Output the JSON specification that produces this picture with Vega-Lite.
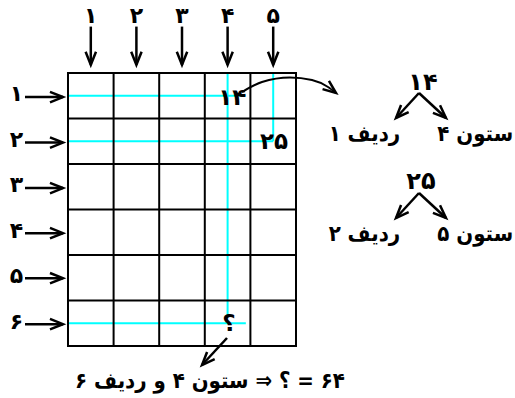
{
  "$schema": "https://vega.github.io/schema/vega-lite/v6.json",
  "width": 515,
  "height": 398,
  "padding": 0,
  "autosize": {"type": "fit", "contains": "padding"},
  "config": {"view": {"stroke": null}},
  "datasets": {
    "grid": [
      {"x": 0, "y": 0, "x2": 0, "y2": 6},
      {"x": 1, "y": 0, "x2": 1, "y2": 6},
      {"x": 2, "y": 0, "x2": 2, "y2": 6},
      {"x": 3, "y": 0, "x2": 3, "y2": 6},
      {"x": 4, "y": 0, "x2": 4, "y2": 6},
      {"x": 5, "y": 0, "x2": 5, "y2": 6},
      {"x": 0, "y": 0, "x2": 5, "y2": 0},
      {"x": 0, "y": 1, "x2": 5, "y2": 1},
      {"x": 0, "y": 2, "x2": 5, "y2": 2},
      {"x": 0, "y": 3, "x2": 5, "y2": 3},
      {"x": 0, "y": 4, "x2": 5, "y2": 4},
      {"x": 0, "y": 5, "x2": 5, "y2": 5},
      {"x": 0, "y": 6, "x2": 5, "y2": 6}
    ],
    "cyan": [
      {"x": 0, "y": 0.5, "x2": 3.9, "y2": 0.5},
      {"x": 0, "y": 1.5, "x2": 4.5, "y2": 1.5},
      {"x": 4.5, "y": 0, "x2": 4.5, "y2": 1.5},
      {"x": 3.5, "y": 0, "x2": 3.5, "y2": 5.36},
      {"x": 0, "y": 5.5, "x2": 3.9, "y2": 5.5}
    ],
    "arrows": [
      {"x": 0.5, "y": -1.02, "x2": 0.5, "y2": -0.18, "dir": "down"},
      {"x": 1.5, "y": -1.02, "x2": 1.5, "y2": -0.18, "dir": "down"},
      {"x": 2.5, "y": -1.02, "x2": 2.5, "y2": -0.18, "dir": "down"},
      {"x": 3.5, "y": -1.02, "x2": 3.5, "y2": -0.18, "dir": "down"},
      {"x": 4.5, "y": -1.02, "x2": 4.5, "y2": -0.18, "dir": "down"},
      {"x": -0.943, "y": 0.53, "x2": -0.11, "y2": 0.53, "dir": "right"},
      {"x": -0.943, "y": 1.53, "x2": -0.11, "y2": 1.53, "dir": "right"},
      {"x": -0.943, "y": 2.53, "x2": -0.11, "y2": 2.53, "dir": "right"},
      {"x": -0.943, "y": 3.52, "x2": -0.11, "y2": 3.52, "dir": "right"},
      {"x": -0.943, "y": 4.51, "x2": -0.11, "y2": 4.51, "dir": "right"},
      {"x": -0.943, "y": 5.52, "x2": -0.11, "y2": 5.52, "dir": "right"},
      {"x": 7.697, "y": 0.44, "x2": 7.193, "y2": 0.989, "dir": "downleft"},
      {"x": 7.697, "y": 0.44, "x2": 8.289, "y2": 0.989, "dir": "downright"},
      {"x": 7.697, "y": 2.637, "x2": 7.193, "y2": 3.187, "dir": "downleft"},
      {"x": 7.697, "y": 2.637, "x2": 8.289, "y2": 3.187, "dir": "downright"},
      {"x": 3.487, "y": 5.824, "x2": 2.939, "y2": 6.418, "dir": "downleft"},
      {"x": 5.877, "y": 0.44, "x2": 5.877, "y2": 0.44, "dir": "curve"}
    ],
    "curve": [
      {"x": 3.816, "y": 0.418},
      {"x": 4.254, "y": 0.198},
      {"x": 4.868, "y": 0.099},
      {"x": 5.351, "y": 0.154},
      {"x": 5.702, "y": 0.308},
      {"x": 5.877, "y": 0.44}
    ],
    "labels": [
      {"x": 0.5, "y": -1.25, "text": "۱", "kind": "col"},
      {"x": 1.5, "y": -1.25, "text": "۲", "kind": "col"},
      {"x": 2.5, "y": -1.25, "text": "۳", "kind": "col"},
      {"x": 3.5, "y": -1.25, "text": "۴", "kind": "col"},
      {"x": 4.5, "y": -1.25, "text": "۵", "kind": "col"},
      {"x": 3.6, "y": 0.54, "text": "۱۴", "kind": "cell"},
      {"x": 4.52, "y": 1.52, "text": "۲۵", "kind": "cell"},
      {"x": 3.53, "y": 5.52, "text": "؟", "kind": "cell"},
      {"x": 7.785, "y": 0.22, "text": "۱۴", "kind": "tree"},
      {"x": 7.741, "y": 2.396, "text": "۲۵", "kind": "tree"},
      {"x": 6.5, "y": 1.34, "text": "\u202bردیف ۱\u202c", "kind": "word"},
      {"x": 8.93, "y": 1.34, "text": "\u202bستون ۴\u202c", "kind": "word"},
      {"x": 6.5, "y": 3.538, "text": "\u202bردیف ۲\u202c", "kind": "word"},
      {"x": 8.93, "y": 3.538, "text": "\u202bستون ۵\u202c", "kind": "word"},
      {"x": 3.114, "y": 6.769, "text": "\u202b۶۴ = ؟ ⇒ ستون ۴ و ردیف ۶\u202c", "kind": "word"}
    ],
    "rowlabels": [
      {"x": -0.98, "y": 0.47, "text": "۱"},
      {"x": -0.98, "y": 1.47, "text": "۲"},
      {"x": -0.98, "y": 2.47, "text": "۳"},
      {"x": -0.98, "y": 3.47, "text": "۴"},
      {"x": -0.98, "y": 4.47, "text": "۵"},
      {"x": -0.98, "y": 5.47, "text": "۶"}
    ]
  },
  "encoding": {
    "x": {"field": "x", "type": "quantitative", "axis": null,
          "scale": {"domain": [-1.4912, 9.8026], "nice": false, "zero": false}},
    "y": {"field": "y", "type": "quantitative", "axis": null,
          "scale": {"domain": [-1.6044, 7.1429], "nice": false, "zero": false, "reverse": true}}
  },
  "layer": [
    {
      "data": {"name": "cyan"},
      "mark": {"type": "rule", "color": "#00FFFF", "strokeWidth": 2},
      "encoding": {"x2": {"field": "x2"}, "y2": {"field": "y2"}}
    },
    {
      "data": {"name": "grid"},
      "mark": {"type": "rule", "color": "#000000", "strokeWidth": 2, "strokeCap": "square"},
      "encoding": {"x2": {"field": "x2"}, "y2": {"field": "y2"}}
    },
    {
      "data": {"name": "arrows"},
      "mark": {"type": "rule", "color": "#000000", "strokeWidth": 2.5},
      "encoding": {"x2": {"field": "x2"}, "y2": {"field": "y2"}}
    },
    {
      "data": {"name": "arrows"},
      "transform": [{"filter": "datum.dir === 'down'"}],
      "mark": {"type": "point", "shape": "M -1 -0.4 L 0 0 L -1 0.4", "filled": false, "angle": 90,
               "color": "#000000", "opacity": 1, "strokeWidth": 2.5, "size": 676},
      "encoding": {"x": {"field": "x2", "type": "quantitative"}, "y": {"field": "y2", "type": "quantitative"}}
    },
    {
      "data": {"name": "arrows"},
      "transform": [{"filter": "datum.dir === 'right'"}],
      "mark": {"type": "point", "shape": "M -1 -0.4 L 0 0 L -1 0.4", "filled": false, "angle": 0,
               "color": "#000000", "opacity": 1, "strokeWidth": 2.5, "size": 676},
      "encoding": {"x": {"field": "x2", "type": "quantitative"}, "y": {"field": "y2", "type": "quantitative"}}
    },
    {
      "data": {"name": "arrows"},
      "transform": [{"filter": "datum.dir === 'downleft'"}],
      "mark": {"type": "point", "shape": "M -1 -0.4 L 0 0 L -1 0.4", "filled": false, "angle": 133,
               "color": "#000000", "opacity": 1, "strokeWidth": 2.5, "size": 676},
      "encoding": {"x": {"field": "x2", "type": "quantitative"}, "y": {"field": "y2", "type": "quantitative"}}
    },
    {
      "data": {"name": "arrows"},
      "transform": [{"filter": "datum.dir === 'downright'"}],
      "mark": {"type": "point", "shape": "M -1 -0.4 L 0 0 L -1 0.4", "filled": false, "angle": 43,
               "color": "#000000", "opacity": 1, "strokeWidth": 2.5, "size": 676},
      "encoding": {"x": {"field": "x2", "type": "quantitative"}, "y": {"field": "y2", "type": "quantitative"}}
    },
    {
      "data": {"name": "arrows"},
      "transform": [{"filter": "datum.dir === 'curve'"}],
      "mark": {"type": "point", "shape": "M -1 -0.4 L 0 0 L -1 0.4", "filled": false, "angle": 38,
               "color": "#000000", "opacity": 1, "strokeWidth": 2.5, "size": 676},
      "encoding": {"x": {"field": "x2", "type": "quantitative"}, "y": {"field": "y2", "type": "quantitative"}}
    },
    {
      "data": {"name": "curve"},
      "mark": {"type": "line", "color": "#000000", "strokeWidth": 2, "interpolate": "monotone"},
      "encoding": {}
    },
    {
      "data": {"name": "labels"},
      "transform": [{"filter": "datum.kind !== 'word'"}],
      "mark": {"type": "text", "font": "DejaVu Sans", "fontWeight": "bold", "align": "center",
               "baseline": "middle", "color": "#000000"},
      "encoding": {
        "text": {"field": "text"},
        "size": {"field": "kind", "type": "nominal", "legend": null,
                 "scale": {"domain": ["col", "cell", "tree"], "range": [22, 24, 22]}}
      }
    },
    {
      "data": {"name": "labels"},
      "transform": [{"filter": "datum.kind === 'word'"}],
      "mark": {"type": "text", "font": "DejaVu Sans Condensed", "fontWeight": "bold", "align": "center",
               "baseline": "middle", "color": "#000000", "fontSize": 22},
      "encoding": {"text": {"field": "text"}}
    },
    {
      "data": {"name": "rowlabels"},
      "mark": {"type": "text", "font": "DejaVu Sans", "fontWeight": "bold", "align": "right",
               "baseline": "middle", "color": "#000000", "fontSize": 22},
      "encoding": {"text": {"field": "text"}}
    }
  ]
}
